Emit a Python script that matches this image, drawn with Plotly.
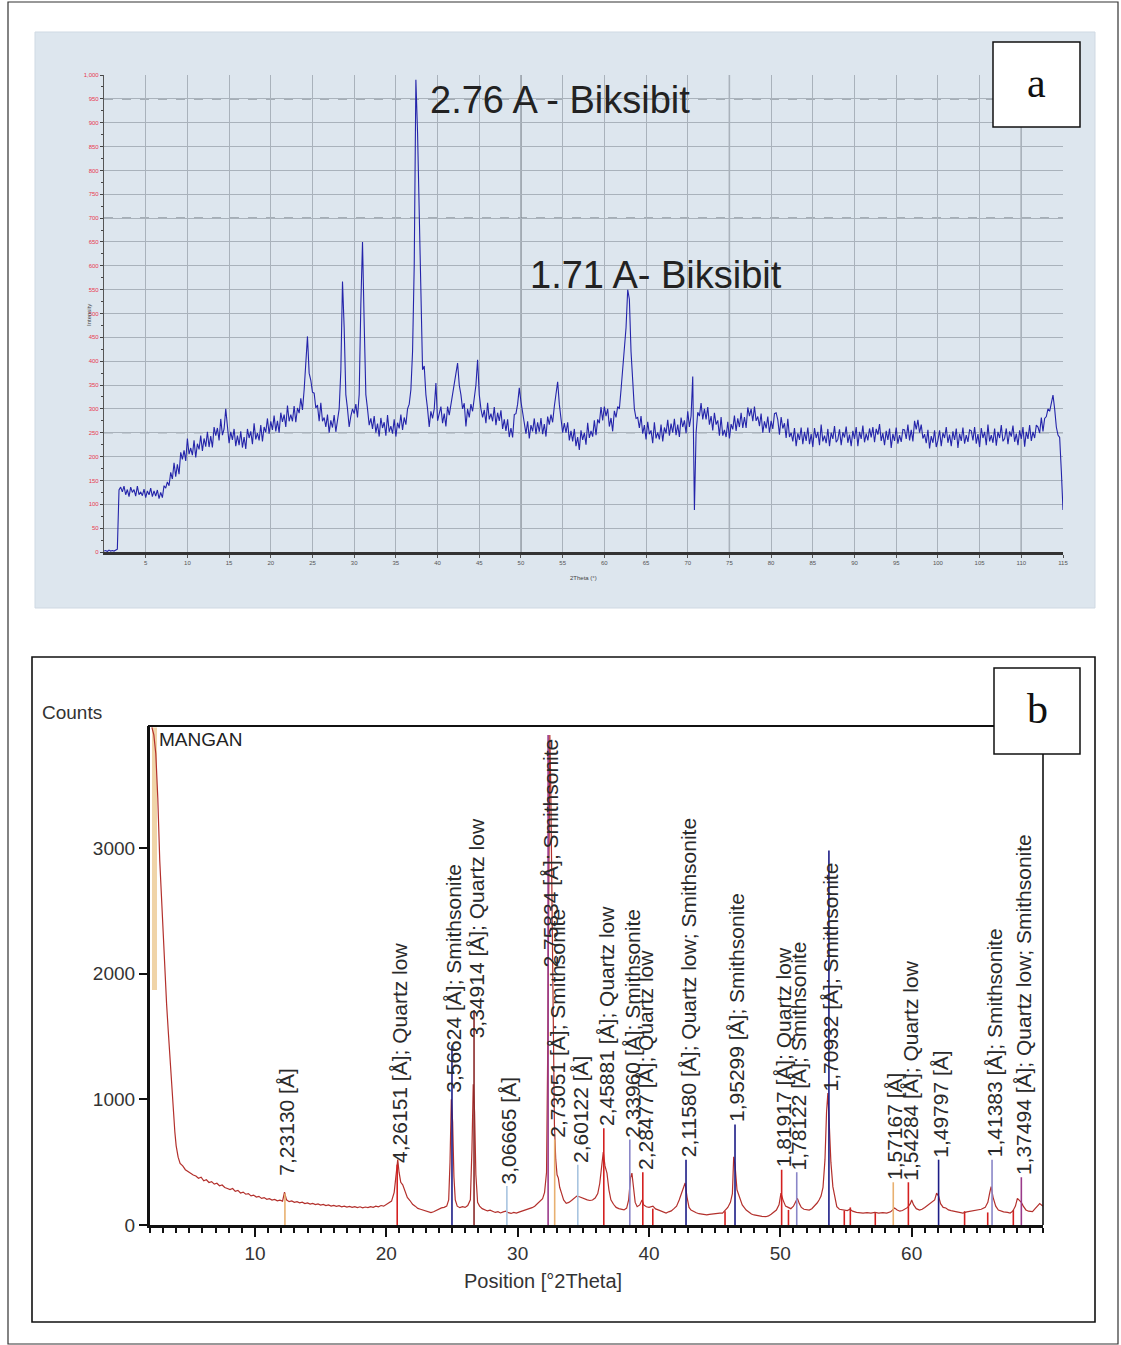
import plotly.graph_objects as go

# ---------------- Panel a data (step scan, 0.2° steps from 0°) ----------------
a_start = 0.0
a_step = 0.2
a_intensity = [
    2, 3, 1, 4, 2, 3, 2, 4, 6, 130,
    136, 126, 138, 120, 131, 116, 136, 125, 131, 117,
    138, 120, 126, 118, 132, 114, 128, 120, 134, 116,
    128, 117, 130, 112, 125, 114, 139, 134, 147, 139,
    167, 153, 187, 158, 184, 163, 209, 194, 213, 191,
    238, 205, 218, 203, 234, 198, 227, 215, 244, 212,
    238, 221, 252, 220, 243, 219, 262, 244, 260, 234,
    279, 245, 258, 300, 268, 228, 252, 235, 258, 222,
    244, 224, 253, 219, 241, 216, 258, 239, 253, 226,
    270, 236, 249, 234, 266, 232, 262, 251, 280, 248,
    274, 256, 286, 253, 275, 250, 292, 273, 288, 262,
    307, 274, 288, 274, 306, 272, 302, 291, 322, 298,
    340, 390, 452, 375, 360, 335, 333, 302, 308, 274,
    313, 274, 282, 262, 288, 250, 276, 261, 287, 252,
    277, 300, 380, 567, 470, 330, 300, 262, 285, 300,
    290, 310, 282, 330, 520, 650, 480, 330, 300, 266,
    280, 258, 285, 250, 269, 242, 281, 260, 272, 244,
    287, 252, 264, 248, 278, 242, 271, 259, 288, 256,
    282, 267, 300, 310, 340, 420, 600, 990, 880, 704,
    480, 382, 390, 330, 300, 262, 295, 280, 300, 354,
    275, 292, 305, 270, 290, 263, 305, 287, 310, 330,
    360, 380, 396, 350, 330, 300, 312, 263, 300, 282,
    310, 295, 330, 350, 403, 330, 300, 282, 298, 270,
    313, 278, 290, 274, 304, 266, 292, 275, 297, 258,
    278, 254, 278, 241, 260, 240, 288, 290, 310, 344,
    315, 290, 270, 248, 274, 238, 266, 253, 280, 247,
    272, 252, 281, 247, 268, 242, 284, 267, 288, 272,
    305, 330, 357, 310, 285, 250, 270, 250, 272, 234,
    254, 232, 258, 222, 241, 214, 255, 235, 250, 225,
    271, 239, 254, 242, 276, 245, 278, 270, 304, 276,
    305, 285, 300, 263, 281, 253, 296, 282, 305, 300,
    340, 380, 420, 470, 550, 530, 420, 360, 300, 280,
    282, 260, 285, 248, 266, 236, 273, 247, 255, 228,
    272, 238, 251, 236, 267, 232, 261, 249, 277, 244,
    269, 250, 279, 245, 267, 241, 282, 262, 276, 249,
    295, 262, 285, 368, 88, 250, 293, 285, 312, 278,
    300, 278, 304, 267, 285, 255, 292, 267, 276, 244,
    283, 244, 256, 241, 273, 238, 268, 257, 286, 254,
    280, 262, 292, 260, 283, 260, 303, 285, 300, 274,
    305, 275, 284, 264, 290, 250, 274, 259, 284, 250,
    275, 258, 290, 292, 277, 246, 283, 259, 270, 239,
    279, 241, 250, 232, 260, 222, 249, 235, 261, 226,
    252, 233, 261, 226, 247, 220, 260, 239, 252, 224,
    267, 232, 244, 228, 258, 222, 250, 237, 264, 230,
    236, 257, 224, 251, 240, 263, 229, 246, 222, 254,
    237, 262, 222, 252, 237, 265, 230, 248, 234, 259,
    240, 262, 230, 258, 246, 268, 233, 249, 224, 254,
    235, 259, 218, 248, 233, 261, 227, 245, 231, 257,
    256, 237, 267, 234, 256, 232, 275, 257, 277, 250,
    267, 238, 247, 228, 256, 217, 243, 229, 255, 220,
    234, 255, 222, 250, 239, 262, 229, 246, 222, 253,
    235, 259, 218, 248, 233, 261, 227, 245, 231, 256,
    254, 234, 262, 227, 247, 220, 260, 239, 252, 224,
    267, 232, 245, 229, 259, 223, 252, 239, 266, 232,
    238, 259, 226, 253, 242, 265, 231, 248, 224, 255,
    237, 262, 221, 252, 237, 266, 233, 252, 239, 266,
    262, 249, 282, 253, 280, 284, 300, 295, 312, 329,
    300, 262, 245, 240, 170, 88]
a_theta = [round(a_start + a_step * i, 1) for i in range(len(a_intensity))]

a_xtick_vals = [5, 10, 15, 20, 25, 30, 35, 40, 45, 50, 55, 60, 65, 70, 75, 80, 85, 90, 95, 100, 105, 110, 115]
a_xtick_text = ["5", "10", "15", "20", "25", "30", "35", "40", "45", "50", "55", "60", "65", "70", "75",
                "80", "85", "90", "95", "100", "105", "110", "115"]
a_ytick_vals = [0, 50, 100, 150, 200, 250, 300, 350, 400, 450, 500, 550, 600, 650, 700, 750, 800, 850, 900, 950, 1000]
a_ytick_text = ["0", "50", "100", "150", "200", "250", "300", "350", "400", "450", "500", "550", "600", "650",
                "700", "750", "800", "850", "900", "950", "1,000"]
a_peak_labels = ["2.76 A - Biksibit", "1.71 A- Biksibit"]

# ---------------- Panel b data (Position [°2Theta] vs Counts) ----------------
b_theta = [2.15, 2.3, 2.45, 2.6, 2.75, 2.9, 3.0, 3.15, 3.27, 3.4, 3.5, 3.65, 3.76, 3.9, 4.0, 4.15, 4.3, 4.5, 4.7, 4.9,
           5.1, 5.3, 5.5, 5.7, 5.9, 6.1, 6.3, 6.5, 6.7, 6.9, 7.1, 7.3, 7.5, 7.7, 7.9, 8.1, 8.3, 8.5, 8.7, 8.9,
           9.1, 9.3, 9.5, 9.7, 9.9, 10.1, 10.3, 10.5, 10.7, 10.9, 11.1, 11.3, 11.5, 11.7, 11.9, 12.1, 12.25, 12.4,
           12.6, 12.8, 13.0, 13.2, 13.4, 13.6, 13.8, 14.0, 14.2, 14.4, 14.6, 14.8, 15.0, 15.2, 15.4, 15.6, 15.8,
           16.0, 16.2, 16.4, 16.6, 16.8, 17.0, 17.2, 17.4, 17.6, 17.8, 18.0, 18.2, 18.4, 18.6, 18.8, 19.0, 19.2,
           19.4, 19.6, 19.8, 20.0, 20.2, 20.4, 20.6, 20.75, 20.87, 20.97, 21.1, 21.25, 21.4, 21.6, 21.8, 22.0,
           22.2, 22.4, 22.6, 22.8, 23.0, 23.2, 23.4, 23.6, 23.8, 24.0, 24.2, 24.4, 24.6, 24.75, 24.85, 24.95,
           25.05, 25.15, 25.25, 25.4, 25.6, 25.8, 26.0, 26.2, 26.4, 26.52, 26.62, 26.72, 26.82, 26.95, 27.1,
           27.3, 27.5, 27.7, 27.9, 28.1, 28.3, 28.5, 28.7, 28.9, 29.1, 29.3, 29.5, 29.7, 29.9, 30.1, 30.3, 30.5,
           30.7, 30.9, 31.1, 31.3, 31.5, 31.7, 31.9, 32.05, 32.2, 32.3, 32.38, 32.45, 32.52, 32.6, 32.7, 32.8,
           32.9, 33.0, 33.1, 33.2, 33.34, 33.5, 33.7, 33.9, 34.1, 34.3, 34.5, 34.7, 34.9, 35.1, 35.3, 35.5, 35.7,
           35.9, 36.1, 36.25, 36.4, 36.52, 36.65, 36.8, 36.95, 37.1, 37.3, 37.5, 37.7, 37.9, 38.1, 38.3, 38.45,
           38.6, 38.7, 38.82, 38.95, 39.1, 39.3, 39.47, 39.6, 39.8, 40.0, 40.3, 40.5, 40.7, 40.9, 41.1, 41.3,
           41.5, 41.7, 41.9, 42.1, 42.3, 42.5, 42.65, 42.75, 42.9, 43.05, 43.2, 43.4, 43.6, 43.8, 44.0, 44.2,
           44.4, 44.6, 44.8, 45.0, 45.2, 45.4, 45.6, 45.8, 46.0, 46.2, 46.35, 46.45, 46.55, 46.7, 46.9, 47.1,
           47.4, 47.6, 47.8, 48.0, 48.2, 48.4, 48.6, 48.9, 49.1, 49.3, 49.5, 49.7, 49.9, 50.05, 50.2, 50.4,
           50.6, 50.8, 51.0, 51.2, 51.3, 51.45, 51.6, 51.8, 52.0, 52.2, 52.4, 52.6, 52.8, 52.95, 53.1, 53.25,
           53.4, 53.52, 53.62, 53.72, 53.85, 54.0, 54.15, 54.3, 54.5, 54.7, 54.9, 55.1, 55.3, 55.5, 55.8, 56.0,
           56.3, 56.6, 56.9, 57.2, 57.5, 57.8, 58.1, 58.4, 58.7, 58.9, 59.1, 59.3, 59.5, 59.7, 59.9, 60.0,
           60.15, 60.35, 60.6, 60.8, 61.0, 61.2, 61.4, 61.6, 61.75, 61.9, 62.05, 62.2, 62.4, 62.6, 62.8, 63.0,
           63.2, 63.5, 63.9, 64.2, 64.5, 64.8, 65.0, 65.3, 65.6, 65.8, 65.95, 66.05, 66.2, 66.4, 66.6, 66.8,
           67.0, 67.3, 67.5, 67.7, 67.9, 68.05, 68.2, 68.35, 68.5, 68.7, 68.9, 69.2, 69.4, 69.6, 69.75, 70.0]
b_counts = [3960, 3900, 3750, 3400, 2900, 2550, 2270, 1980, 1760, 1540, 1360, 1120, 910, 740, 630, 540, 490, 470, 440, 425,
            410, 398, 390, 372, 380, 352, 360, 338, 345, 325, 332, 312, 318, 298, 290, 282, 290, 268, 275, 255,
            262, 245, 250, 232, 238, 222, 228, 212, 218, 205, 210, 198, 204, 192, 198, 190, 262, 200,
            186, 192, 180, 186, 176, 182, 170, 176, 166, 172, 162, 168, 158, 164, 154, 160, 150,
            156, 148, 154, 144, 150, 142, 148, 140, 146, 138, 145, 136, 143, 138, 146, 140, 150,
            145, 155, 150, 162, 172, 190, 260, 380, 520, 420, 340, 320, 270, 220, 195, 165,
            150, 132, 125, 118, 110, 102, 98, 105, 115, 128, 136, 140, 150, 200, 500, 1000,
            820, 380, 200, 150, 138, 146, 140, 155, 200, 600, 1120, 900, 400, 180, 150,
            130, 120, 112, 118, 108, 100, 106, 96, 104, 110, 98, 92, 100, 95, 102, 108, 115,
            122, 128, 138, 150, 168, 190, 210, 260, 420, 1500, 3200, 3900, 3500, 2600, 1500, 800,
            520, 400, 373, 300, 254, 200, 173, 180, 195, 210, 230, 225, 215, 205, 200, 195, 199,
            215, 250, 330, 480, 580, 470, 413, 280, 200, 165, 140, 130, 122, 120, 135, 200,
            380, 413, 300, 180, 146, 160, 200, 160, 145, 140, 150, 128, 120, 110, 102, 95,
            105, 112, 130, 150, 199, 260, 300, 334, 220, 140, 119, 105, 98, 90, 86, 82,
            80, 85, 88, 92, 90, 95, 95, 120, 140, 180, 250, 543, 480, 280, 225, 160,
            119, 100, 88, 80, 75, 72, 68, 66, 72, 85, 100, 119, 160, 254, 200, 150,
            140, 130, 150, 200, 212, 170, 140, 125, 120, 119, 130, 150, 175, 199, 230, 300,
            520, 900, 1050, 820, 500, 305, 210, 146, 125, 120, 119, 115, 125, 110, 100, 98,
            95, 98, 95, 100, 95, 98, 95, 105, 135, 120, 110, 115, 125, 140, 170, 199,
            160, 130, 119, 125, 140, 155, 170, 185, 199, 254, 230, 170, 140, 135, 120, 115,
            110, 100, 95, 105, 110, 115, 119, 125, 140, 180, 260, 305, 220, 150, 119, 110,
            105, 100, 95, 110, 150, 212, 199, 180, 150, 120, 110, 106, 130, 150, 170, 150]
b_xtick_vals = [10, 20, 30, 40, 50, 60]
b_ytick_vals = [0, 1000, 2000, 3000]

b_peak_pos = [12.28, 20.83, 25.0, 26.68, 29.18, 32.32, 32.82, 34.58, 36.56, 38.54, 39.53, 42.82, 46.55,
              50.1, 51.25, 53.7, 58.6, 59.75, 62.05, 66.12, 68.35]
b_peak_text = ["7,23130 [Å]", "4,26151 [Å]; Quartz low", "3,56624 [Å]; Smithsonite", "3,34914 [Å]; Quartz low",
               "3,06665 [Å]", "2,75834 [Å]; Smithsonite", "2,73051 [Å]; Smithsonite", "2,60122 [Å]",
               "2,45881 [Å]; Quartz low", "2,33960 [Å]; Smithsonite", "2,28477 [Å]; Quartz low",
               "2,11580 [Å]; Quartz low; Smithsonite", "1,95299 [Å]; Smithsonite", "1,81917 [Å]; Quartz low",
               "1,78122 [Å]; Smithsonite", "1,70932 [Å]; Smithsonite", "1,57167 [Å]", "1,54284 [Å]; Quartz low",
               "1,49797 [Å]", "1,41383 [Å]; Smithsonite", "1,37494 [Å]; Quartz low; Smithsonite"]
b_peak_group = ["none", "quartz", "smith", "quartz2", "none2", "mixed", "none", "none2", "quartz", "smith2",
                "quartz", "smith", "smith", "quartz", "smith2", "smith", "none", "quartz", "smith", "smith2", "mixed"]
# where each rotated label starts, and how high each peak stick reaches (counts)
b_label_base = [380, 480, 1040, 1470, 310, 2030, 680, 480, 770, 680, 420, 520, 800, 440, 420, 1050, 340, 340,
                520, 520, 380]
b_stick_top = [250, 480, 1430, 1710, 310, 3900, 680, 480, 770, 680, 420, 520, 800, 440, 420, 2980, 340, 340,
               520, 520, 380]

b_ref_pos = [40.29, 45.79, 50.62, 54.87, 55.33, 57.23, 64.03, 65.79, 67.74]
b_ref_counts = [130, 110, 120, 115, 140, 95, 110, 100, 120]

group_color = {"none": "#e8b070", "quartz": "#d42020", "smith": "#1c1c86", "quartz2": "#8a2a2a",
               "none2": "#a8c4e0", "mixed": "#9a3a8a", "smith2": "#8a86c8"}

fig = go.Figure()

fig.add_trace(go.Scatter(x=a_theta, y=a_intensity, mode="lines", xaxis="x", yaxis="y",
                         line=dict(color="#2424aa", width=1.1), hoverinfo="skip", showlegend=False))

xs, ys = [], []
for p, c in zip(b_ref_pos, b_ref_counts):
    xs += [p, p, None]
    ys += [0, c, None]
fig.add_trace(go.Scatter(x=xs, y=ys, mode="lines", xaxis="x2", yaxis="y2",
                         line=dict(color="#d42020", width=1.6), hoverinfo="skip", showlegend=False))
fig.add_trace(go.Scatter(x=[2.35, 2.35], y=[1870, 3960], mode="lines", xaxis="x2", yaxis="y2",
                         line=dict(color="#f0d4a8", width=5), hoverinfo="skip", showlegend=False))

fig.add_trace(go.Scatter(x=b_theta, y=b_counts, mode="lines", xaxis="x2", yaxis="y2",
                         line=dict(color="#b3302c", width=1.2), hoverinfo="skip", showlegend=False))

# identified-peak sticks drawn over the pattern, grouped by colour
for g, col in group_color.items():
    xs, ys = [], []
    for p, top, grp in zip(b_peak_pos, b_stick_top, b_peak_group):
        if grp == g:
            xs += [p, p, None]
            ys += [0, top, None]
    if xs:
        fig.add_trace(go.Scatter(x=xs, y=ys, mode="lines", xaxis="x2", yaxis="y2",
                                 line=dict(color=col, width=1.6), hoverinfo="skip", showlegend=False))

W, H = 1121, 1345


def px(x):
    return x / W


def py(y):
    return 1 - y / H


shapes = [
    dict(type="rect", xref="paper", yref="paper", x0=px(8), x1=px(1118), y0=py(1344), y1=py(2),
         line=dict(color="#333", width=1.2), fillcolor="rgba(0,0,0,0)", layer="below"),
    dict(type="rect", xref="paper", yref="paper", x0=px(35), x1=px(1095), y0=py(608), y1=py(32),
         line=dict(color="#cfd9e3", width=1), fillcolor="#dde6ee", layer="below"),
    dict(type="rect", xref="paper", yref="paper", x0=px(32), x1=px(1095), y0=py(1322), y1=py(657),
         line=dict(color="#111", width=1.6), fillcolor="white", layer="below"),
    dict(type="line", xref="paper", yref="paper", x0=px(148), x1=px(1043), y0=py(726), y1=py(726),
         line=dict(color="#111", width=2)),
    dict(type="line", xref="paper", yref="paper", x0=px(1043), x1=px(1043), y0=py(726), y1=py(1225),
         line=dict(color="#111", width=1.6)),
]
for v in [250, 700, 950]:
    shapes.append(dict(type="line", xref="x", yref="y", x0=0, x1=115, y0=v, y1=v, layer="below",
                       line=dict(color="#6e767e", width=1.2, dash="dash")))
for v in [50, 75, 110]:
    shapes.append(dict(type="line", xref="x", yref="y", x0=v, x1=v, y0=0, y1=1000, layer="below",
                       line=dict(color="#7c848c", width=1.3)))
shapes.append(dict(type="rect", xref="paper", yref="paper", x0=px(993), x1=px(1080), y0=py(127), y1=py(42),
                   line=dict(color="#111", width=1.5), fillcolor="white"))
shapes.append(dict(type="rect", xref="paper", yref="paper", x0=px(994), x1=px(1080), y0=py(754), y1=py(668),
                   line=dict(color="#111", width=1.5), fillcolor="white"))


def ann(text, x, y, size, family="Liberation Sans", color="#222", xanchor="center", angle=0):
    return dict(text=text, xref="paper", yref="paper", x=px(x), y=py(y), xanchor=xanchor, yanchor="middle",
                textangle=angle, showarrow=False, font=dict(family=family, size=size, color=color))


annotations = [
    ann(a_peak_labels[0], 428, 100, 38, xanchor="left"),
    ann(a_peak_labels[1], 528, 275, 38, xanchor="left"),
    ann("a", 1036, 83, 42, family="Liberation Serif", color="#111"),
    ann("b", 1037, 709, 42, family="Liberation Serif", color="#111"),
    ann("Intensity", 89, 315, 6, color="#444", angle=-90),
    ann("2Theta (°)", 583, 578, 6, color="#444"),
    ann("Counts", 40, 712, 19, color="#333", xanchor="left"),
    ann("MANGAN", 157, 739, 19, xanchor="left"),
    ann("Position [°2Theta]", 543, 1281, 20, color="#333"),
]
for p, t, base in zip(b_peak_pos, b_peak_text, b_label_base):
    annotations.append(dict(text=t, xref="x2", yref="y2", x=p, y=base, textangle=-90, xanchor="center",
                            yanchor="bottom", showarrow=False, xshift=2,
                            font=dict(family="Liberation Sans", size=21, color="#2a2a2a")))

fig.update_layout(
    width=W, height=H, margin=dict(l=0, r=0, t=0, b=0, pad=0, autoexpand=False),
    paper_bgcolor="white", plot_bgcolor="rgba(0,0,0,0)",
    showlegend=False,
    xaxis=dict(domain=[px(104), px(1063)], range=[0, 115], anchor="y", automargin=False,
               tickvals=a_xtick_vals, ticktext=a_xtick_text, showgrid=True, gridcolor="#a9b2bb", gridwidth=1,
               zeroline=False, showline=True, linecolor="#333", linewidth=2.5,
               ticks="outside", ticklen=3, tickcolor="#555",
               tickfont=dict(family="Liberation Sans", size=6, color="#555")),
    yaxis=dict(domain=[py(552), py(75)], range=[0, 1000], anchor="x", automargin=False,
               tickvals=a_ytick_vals, ticktext=a_ytick_text, showgrid=True, gridcolor="#a9b2bb", gridwidth=1,
               zeroline=False, showline=True, linecolor="#555", linewidth=1.2,
               ticks="outside", ticklen=3, tickcolor="#444",
               minor=dict(dtick=25, ticks="outside", ticklen=2, tickcolor="#444", showgrid=False),
               tickfont=dict(family="Liberation Sans", size=6, color="#e8384f")),
    xaxis2=dict(domain=[px(149.9), px(1043)], range=[2, 70], anchor="y2", automargin=False,
                tickvals=b_xtick_vals, showgrid=False, zeroline=False,
                showline=True, linecolor="#111", linewidth=3,
                ticks="outside", ticklen=9, tickwidth=2, tickcolor="#111",
                minor=dict(dtick=1, tick0=0, ticks="outside", ticklen=5, tickwidth=1.5, tickcolor="#111"),
                tickfont=dict(family="Liberation Sans", size=19, color="#333")),
    yaxis2=dict(domain=[py(1225), py(726)], range=[0, 3971], anchor="x2", automargin=False,
                tickvals=b_ytick_vals, showgrid=False, zeroline=False,
                showline=True, linecolor="#111", linewidth=3,
                ticks="outside", ticklen=8, tickwidth=2, tickcolor="#111",
                tickfont=dict(family="Liberation Sans", size=19, color="#333")),
    shapes=shapes, annotations=annotations,
)

page_js = (
    "var d=document.documentElement,b=document.body;"
    "d.style.margin='0';d.style.padding='0';d.style.overflow='hidden';"
    "b.style.margin='0';b.style.padding='0';b.style.overflow='hidden';"
)
fig.write_html("out.html", config={"displayModeBar": False}, post_script=page_js)
